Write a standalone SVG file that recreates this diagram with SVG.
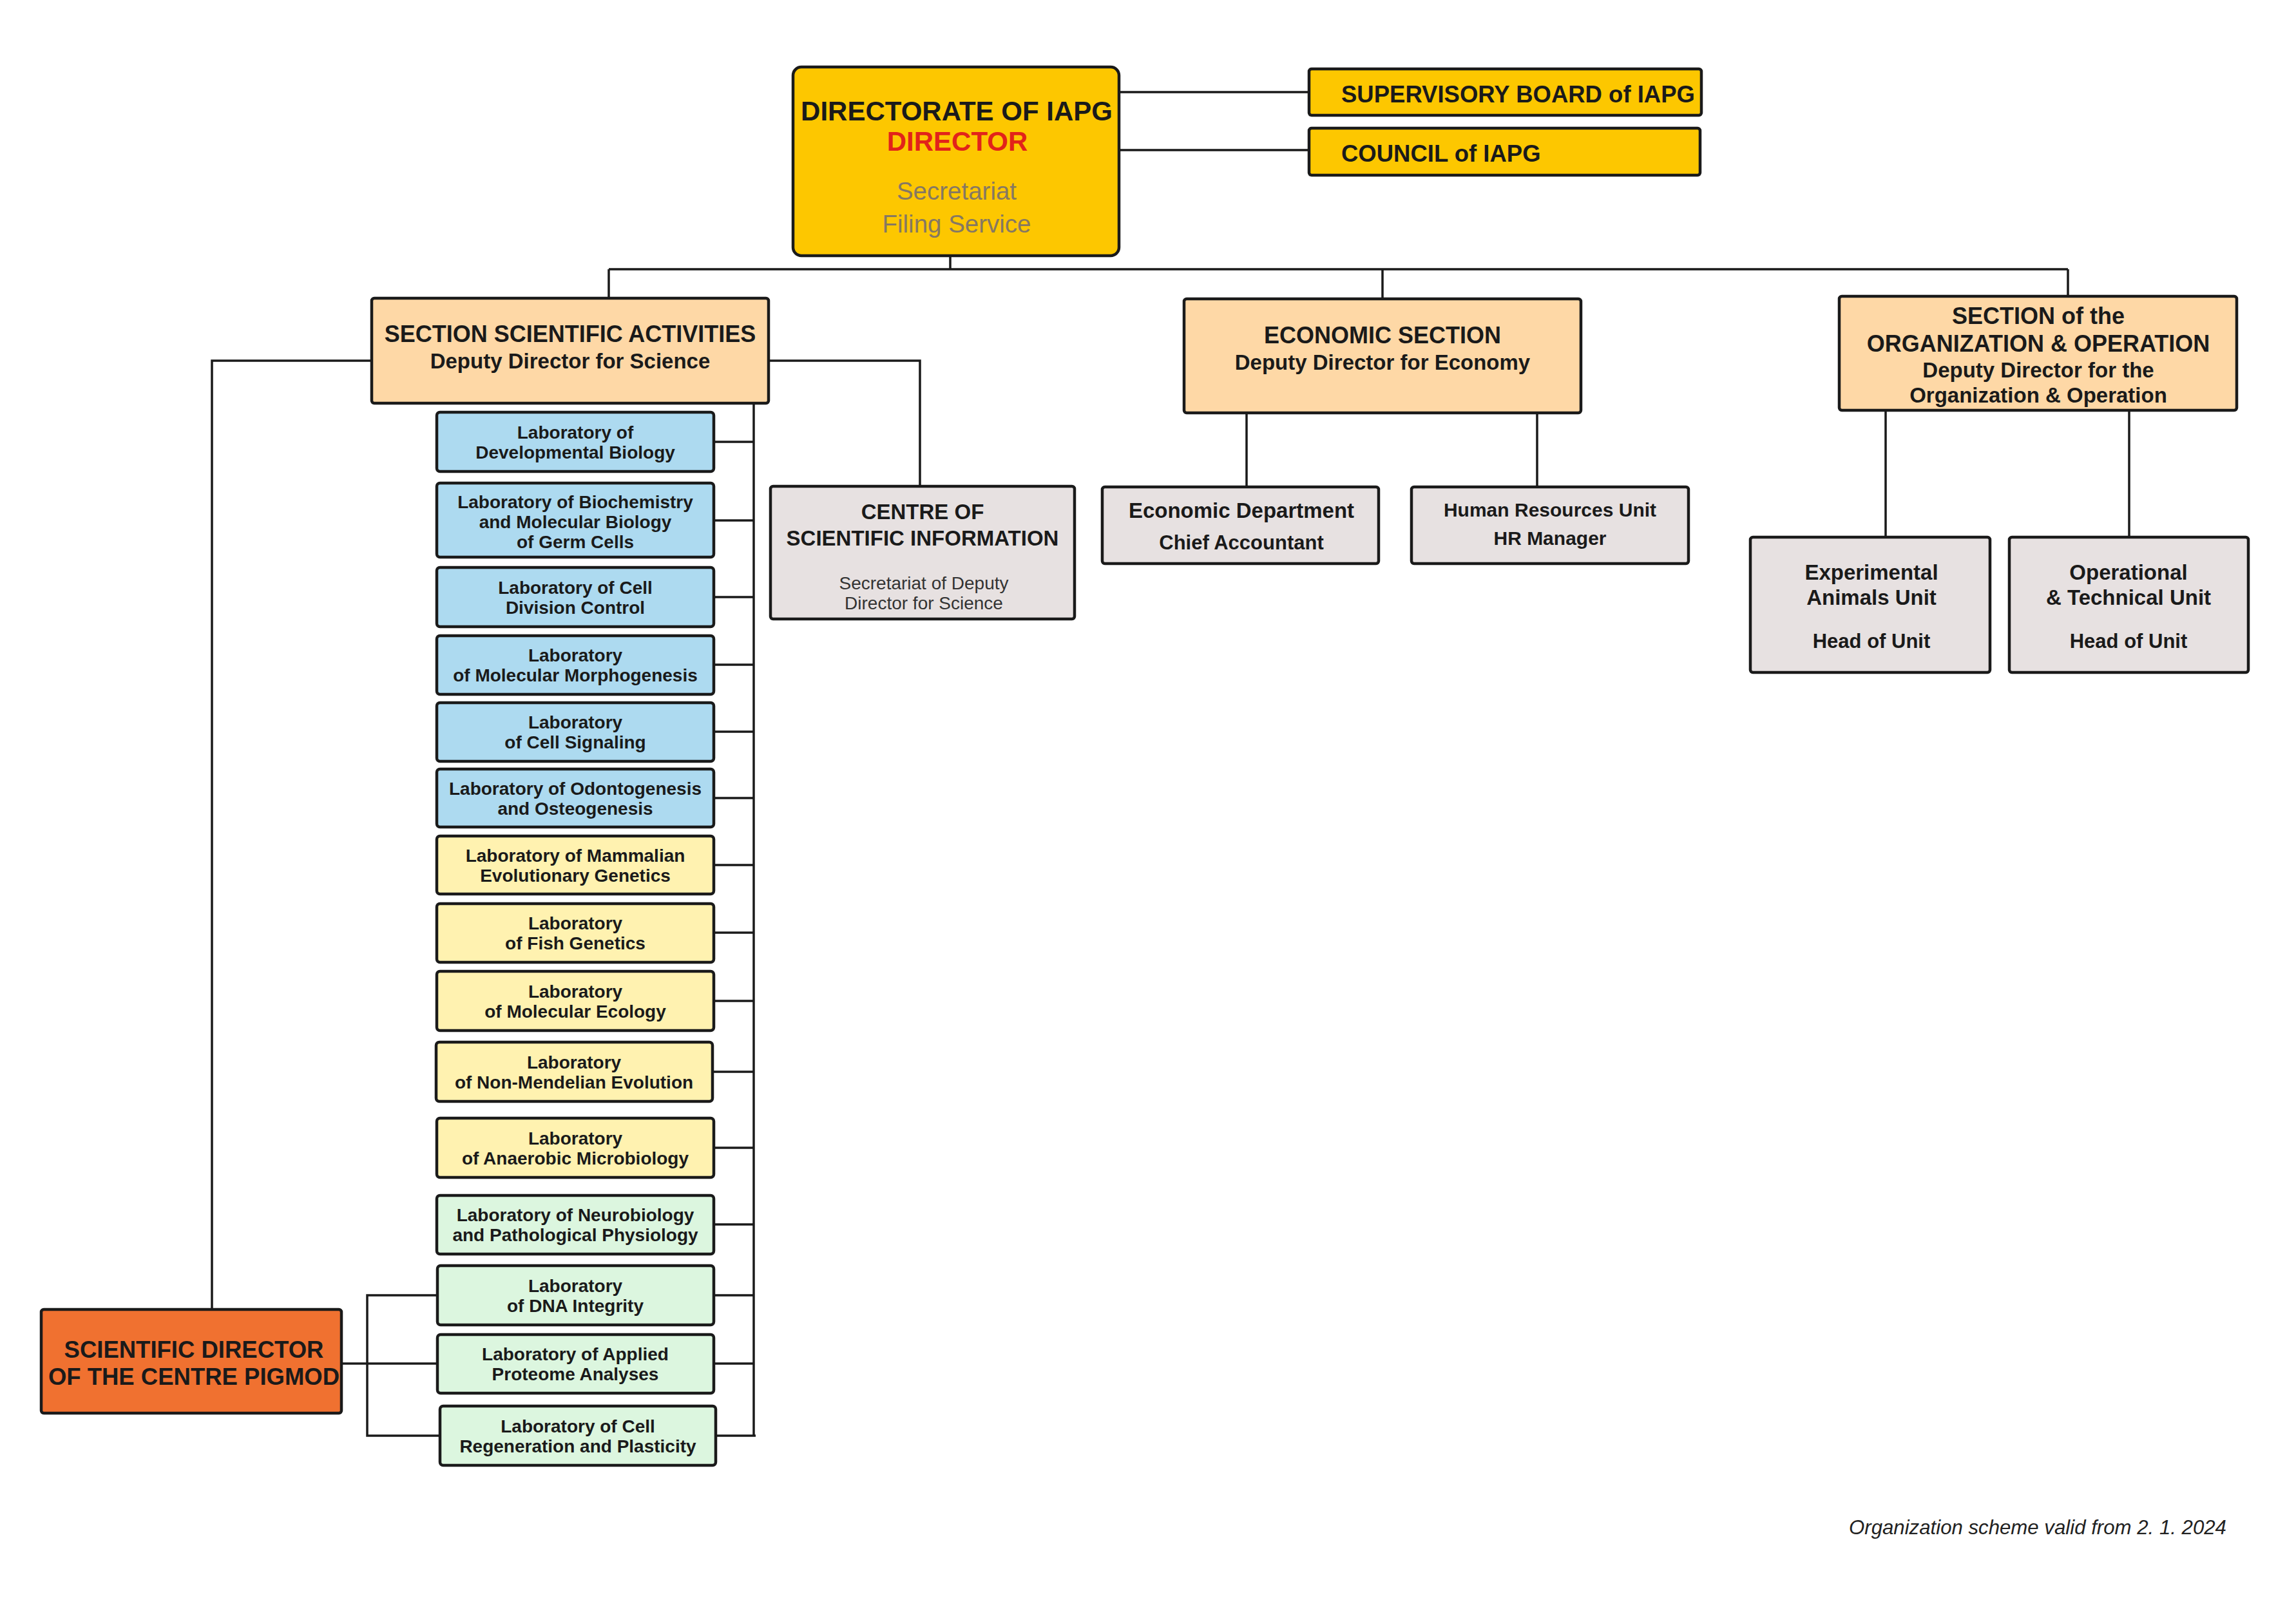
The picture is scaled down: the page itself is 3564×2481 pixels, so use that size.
<svg xmlns="http://www.w3.org/2000/svg" width="3564" height="2481" viewBox="0 0 3564 2481">
<style>
text{font-family:"Liberation Sans",Arial,Helvetica,sans-serif;font-weight:bold;fill:#1a1a1a;text-anchor:middle}
.box{stroke:#1a1a1a;stroke-width:4.5}
.gold{fill:#FDC700}
.sec{fill:#FED8A6}
.gray{fill:#E7E1E1}
.blue{fill:#ADDAF0}
.yel{fill:#FFF2B0}
.grn{fill:#DCF6DF}
.org{fill:#F07130}
.conn path{fill:none;stroke:#1a1a1a;stroke-width:3.5}
.lab{font-size:28px}
.t36{font-size:36px}
.t33{font-size:33px}
.t31{font-size:31px}
.t30{font-size:30px}
.reg{font-weight:normal}
.left{text-anchor:start}
</style>
<rect width="3564" height="2481" fill="#FFFFFF"/>

<g id="connectors" class="conn">
  <path d="M1737 143H2032M1737 233H2032"/>
  <path d="M1475 397V418M945 418H3210M945 418V463M2146 418V464M3210 418V460"/>
  <path d="M577 560H329V2033M1193 560H1428V755"/>
  <path d="M1170 626V2229"/>
  <path d="M1108 686H1170M1108 808H1170M1108 927H1170M1108 1032H1170M1108 1136H1170M1108 1239H1170M1108 1343H1170M1108 1448H1170M1108 1554H1170M1106 1664H1170M1108 1782H1170M1108 1901H1170M1108 2011H1170M1108 2117H1170M1111 2229H1173"/>
  <path d="M679 2011H570V2229H683M530 2117H679"/>
  <path d="M1935 641V756M2386 641V756"/>
  <path d="M2927 637V834M3305 637V834"/>
</g>

<g id="directorate">
  <rect class="box gold" x="1231" y="104" width="506" height="293" rx="13"/>
  <text x="1485" y="187" style="font-size:42px">DIRECTORATE OF IAPG</text>
  <text x="1486" y="234" style="font-size:42px;fill:#E2231A">DIRECTOR</text>
  <text class="reg" x="1485" y="310" style="font-size:38.5px;fill:#867862">Secretariat</text>
  <text class="reg" x="1485" y="361" style="font-size:38.5px;fill:#867862">Filing Service</text>
</g>

<g id="supervisory-board">
  <rect class="box gold" x="2032" y="107" width="609" height="72" rx="4"/>
  <text class="left" x="2082" y="159" style="font-size:36.5px">SUPERVISORY BOARD of IAPG</text>
</g>

<g id="council">
  <rect class="box gold" x="2032" y="199" width="607" height="73" rx="4"/>
  <text class="left" x="2082" y="251" style="font-size:36.5px">COUNCIL of IAPG</text>
</g>

<g id="section-scientific">
  <rect class="box sec" x="577" y="463" width="616" height="163" rx="4"/>
  <text class="t36" x="885" y="531">SECTION SCIENTIFIC ACTIVITIES</text>
  <text class="t33" x="885" y="572">Deputy Director for Science</text>
</g>

<g id="economic-section">
  <rect class="box sec" x="1838" y="464" width="616" height="177" rx="4"/>
  <text class="t36" x="2146" y="533">ECONOMIC SECTION</text>
  <text class="t33" x="2146" y="574">Deputy Director for Economy</text>
</g>

<g id="section-organization">
  <rect class="box sec" x="2855" y="460" width="617" height="177" rx="4"/>
  <text class="t36" x="3164" y="503">SECTION of the</text>
  <text class="t36" x="3164" y="546">ORGANIZATION &amp; OPERATION</text>
  <text class="t33" x="3164" y="586">Deputy Director for the</text>
  <text class="t33" x="3164" y="625">Organization &amp; Operation</text>
</g>

<g id="centre-scientific-information">
  <rect class="box gray" x="1196" y="755" width="472" height="206" rx="4"/>
  <text class="t33" x="1432" y="806">CENTRE OF</text>
  <text class="t33" x="1432" y="847">SCIENTIFIC INFORMATION</text>
  <text class="reg" x="1434" y="915" style="font-size:28px;fill:#333">Secretariat of Deputy</text>
  <text class="reg" x="1434" y="946" style="font-size:28px;fill:#333">Director for Science</text>
</g>

<g id="economic-department">
  <rect class="box gray" x="1711" y="756" width="429" height="119" rx="4"/>
  <text class="t33" x="1927" y="804">Economic Department</text>
  <text class="t31" x="1927" y="853">Chief Accountant</text>
</g>

<g id="hr-unit">
  <rect class="box gray" x="2191" y="756" width="430" height="119" rx="4"/>
  <text class="t30" x="2406" y="802">Human Resources Unit</text>
  <text class="t30" x="2406" y="846">HR Manager</text>
</g>

<g id="experimental-animals-unit">
  <rect class="box gray" x="2717" y="834" width="372" height="210" rx="4"/>
  <text class="t33" x="2905" y="900">Experimental</text>
  <text class="t33" x="2905" y="939">Animals Unit</text>
  <text class="t31" x="2905" y="1006">Head of Unit</text>
</g>

<g id="operational-technical-unit">
  <rect class="box gray" x="3119" y="834" width="371" height="210" rx="4"/>
  <text class="t33" x="3304" y="900">Operational</text>
  <text class="t33" x="3304" y="939">&amp; Technical Unit</text>
  <text class="t31" x="3304" y="1006">Head of Unit</text>
</g>

<g id="lab-developmental-biology">
  <rect class="box blue" x="678" y="640" width="430" height="92" rx="5"/>
  <text class="lab" x="893" y="681">Laboratory of</text>
  <text class="lab" x="893" y="712">Developmental Biology</text>
</g>
<g id="lab-biochemistry">
  <rect class="box blue" x="678" y="750" width="430" height="115" rx="5"/>
  <text class="lab" x="893" y="789">Laboratory of Biochemistry</text>
  <text class="lab" x="893" y="820">and Molecular Biology</text>
  <text class="lab" x="893" y="851">of Germ Cells</text>
</g>
<g id="lab-cell-division-control">
  <rect class="box blue" x="678" y="881" width="430" height="92" rx="5"/>
  <text class="lab" x="893" y="922">Laboratory of Cell</text>
  <text class="lab" x="893" y="953">Division Control</text>
</g>
<g id="lab-molecular-morphogenesis">
  <rect class="box blue" x="678" y="987" width="430" height="91" rx="5"/>
  <text class="lab" x="893" y="1027">Laboratory</text>
  <text class="lab" x="893" y="1058">of Molecular Morphogenesis</text>
</g>
<g id="lab-cell-signaling">
  <rect class="box blue" x="678" y="1091" width="430" height="91" rx="5"/>
  <text class="lab" x="893" y="1131">Laboratory</text>
  <text class="lab" x="893" y="1162">of Cell Signaling</text>
</g>
<g id="lab-odontogenesis">
  <rect class="box blue" x="678" y="1194" width="430" height="90" rx="5"/>
  <text class="lab" x="893" y="1234">Laboratory of Odontogenesis</text>
  <text class="lab" x="893" y="1265">and Osteogenesis</text>
</g>
<g id="lab-mammalian-evolutionary-genetics">
  <rect class="box yel" x="678" y="1298" width="430" height="90" rx="5"/>
  <text class="lab" x="893" y="1338">Laboratory of Mammalian</text>
  <text class="lab" x="893" y="1369">Evolutionary Genetics</text>
</g>
<g id="lab-fish-genetics">
  <rect class="box yel" x="678" y="1403" width="430" height="91" rx="5"/>
  <text class="lab" x="893" y="1443">Laboratory</text>
  <text class="lab" x="893" y="1474">of Fish Genetics</text>
</g>
<g id="lab-molecular-ecology">
  <rect class="box yel" x="678" y="1508" width="430" height="92" rx="5"/>
  <text class="lab" x="893" y="1549">Laboratory</text>
  <text class="lab" x="893" y="1580">of Molecular Ecology</text>
</g>
<g id="lab-non-mendelian-evolution">
  <rect class="box yel" x="677" y="1618" width="429" height="92" rx="5"/>
  <text class="lab" x="891" y="1659">Laboratory</text>
  <text class="lab" x="891" y="1690">of Non-Mendelian Evolution</text>
</g>
<g id="lab-anaerobic-microbiology">
  <rect class="box yel" x="678" y="1736" width="430" height="92" rx="5"/>
  <text class="lab" x="893" y="1777">Laboratory</text>
  <text class="lab" x="893" y="1808">of Anaerobic Microbiology</text>
</g>
<g id="lab-neurobiology">
  <rect class="box grn" x="678" y="1856" width="430" height="91" rx="5"/>
  <text class="lab" x="893" y="1896">Laboratory of Neurobiology</text>
  <text class="lab" x="893" y="1927">and Pathological Physiology</text>
</g>
<g id="lab-dna-integrity">
  <rect class="box grn" x="679" y="1965" width="429" height="92" rx="5"/>
  <text class="lab" x="893" y="2006">Laboratory</text>
  <text class="lab" x="893" y="2037">of DNA Integrity</text>
</g>
<g id="lab-applied-proteome-analyses">
  <rect class="box grn" x="679" y="2072" width="429" height="91" rx="5"/>
  <text class="lab" x="893" y="2112">Laboratory of Applied</text>
  <text class="lab" x="893" y="2143">Proteome Analyses</text>
</g>
<g id="lab-cell-regeneration">
  <rect class="box grn" x="683" y="2183" width="428" height="92" rx="5"/>
  <text class="lab" x="897" y="2224">Laboratory of Cell</text>
  <text class="lab" x="897" y="2255">Regeneration and Plasticity</text>
</g>

<g id="scientific-director-pigmod">
  <rect class="box org" x="64" y="2033" width="466" height="161" rx="4"/>
  <text x="301" y="2108" style="font-size:36.5px">SCIENTIFIC DIRECTOR</text>
  <text x="301" y="2150" style="font-size:36.5px">OF THE CENTRE PIGMOD</text>
</g>

<text class="reg left" x="2870" y="2382" style="font-size:31.2px;font-style:italic;fill:#222">Organization scheme valid from 2. 1. 2024</text>
</svg>
